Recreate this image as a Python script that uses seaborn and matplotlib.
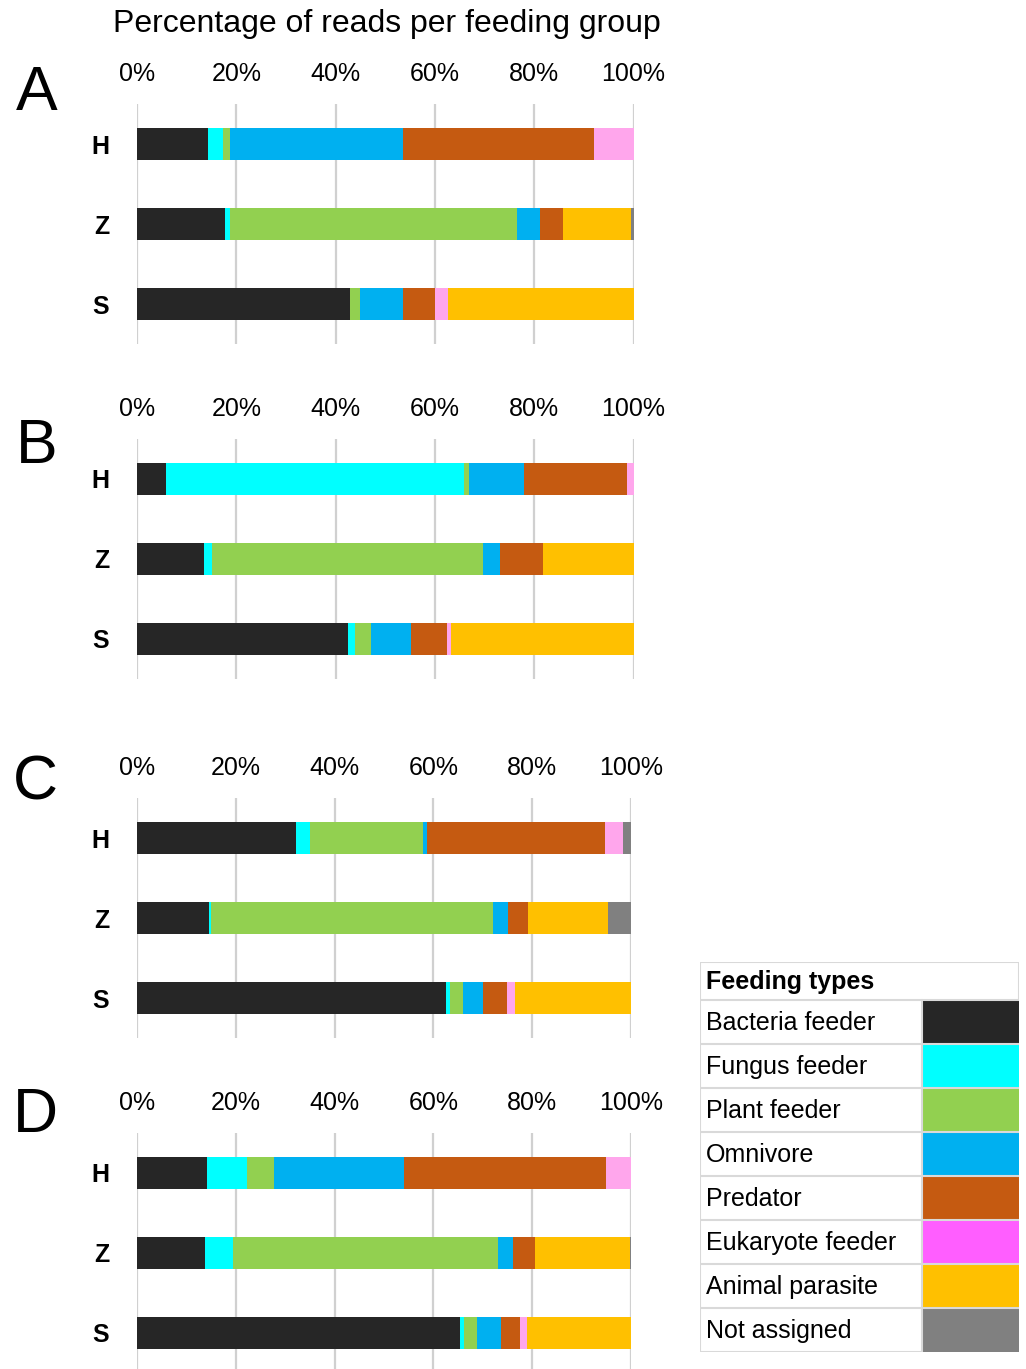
import numpy as np
import pandas as pd
import matplotlib
matplotlib.use("Agg")
import matplotlib.pyplot as plt
from matplotlib.patches import Rectangle
import seaborn as sns

# Feeding groups, in stacking order
feeding_types = ["Bacteria feeder", "Fungus feeder", "Plant feeder", "Omnivore",
                 "Predator", "Eukaryote feeder", "Animal parasite", "Not assigned"]
sites = ["H", "Z", "S"]
panel_labels = ["A", "B", "C", "D"]
tick_values = [0, 20, 40, 60, 80, 100]
tick_labels = ["0%", "20%", "40%", "60%", "80%", "100%"]

# Percentage of reads per feeding group (rows: H, Z, S)
panel_a = [[14.2, 3.1, 1.4, 34.8, 38.6, 7.9, 0.0, 0.0],
           [17.7, 1.0, 57.8, 4.7, 4.7, 0.0, 13.6, 0.5],
           [43.0, 0.0, 2.0, 8.5, 6.5, 2.6, 37.4, 0.0]]
panel_b = [[5.9, 60.0, 1.0, 11.1, 20.7, 1.3, 0.0, 0.0],
           [13.4, 1.7, 54.5, 3.5, 8.6, 0.0, 18.3, 0.0],
           [42.5, 1.5, 3.2, 8.0, 7.2, 0.8, 36.8, 0.0]]
panel_c = [[32.1, 2.9, 22.9, 0.8, 36.0, 3.7, 0.0, 1.6],
           [14.6, 0.3, 57.1, 3.1, 4.0, 0.0, 16.2, 4.7],
           [62.5, 0.8, 2.7, 4.1, 4.9, 1.6, 23.4, 0.0]]
panel_d = [[14.1, 8.1, 5.6, 26.3, 40.8, 5.1, 0.0, 0.0],
           [13.7, 5.7, 53.6, 3.2, 4.4, 0.0, 19.1, 0.3],
           [65.4, 0.8, 2.7, 4.7, 4.0, 1.3, 21.1, 0.0]]
panels = [panel_a, panel_b, panel_c, panel_d]

bar_colors = ["#262626", "#00FFFF", "#92D050", "#00B0F0",
              "#C55A11", "#FFA6EC", "#FFC000", "#808080"]
legend_colors = ["#262626", "#00FFFF", "#92D050", "#00B0F0",
                 "#C55A11", "#FF5EFF", "#FFC000", "#808080"]

sns.set_theme(style="white")
plt.rcParams["font.family"] = ["Liberation Sans", "DejaVu Sans"]
plt.rcParams["text.color"] = "black"
plt.rcParams["xtick.color"] = "black"
plt.rcParams["ytick.color"] = "black"
plt.rcParams["xtick.labelcolor"] = "black"
plt.rcParams["ytick.labelcolor"] = "black"

W, H = 1026, 1369
fig = plt.figure(figsize=(W / 100, H / 100), dpi=100)


def px_axes(x0, y0, x1, y1):
    return fig.add_axes([x0 / W, 1 - y1 / H, (x1 - x0) / W, (y1 - y0) / H])


# axes boxes in pixels: (left, top, right, bottom)
boxes = [(137, 104, 633.5, 344), (137, 439, 633.5, 679),
         (137, 798, 631, 1038), (137, 1133, 631, 1373)]
letter_pos = [(37, 110), (37, 463), (35, 800), (35, 1132)]

for vals, box, lab, lpos in zip(panels, boxes, panel_labels, letter_pos):
    ax = px_axes(*box)
    arr = np.array(vals)
    cum = np.cumsum(arr, axis=1)
    df = pd.DataFrame(cum, columns=feeding_types)
    df["site"] = sites
    # stacked bars: draw cumulative totals from the outermost group inward
    for k in reversed(range(len(feeding_types))):
        sns.barplot(data=df, x=feeding_types[k], y="site", orient="h",
                    color=bar_colors[k], saturation=1, width=0.4,
                    errorbar=None, linewidth=0, ax=ax, zorder=2)
    ax.set_xlim(0, 100)
    ax.set_xticks(tick_values)
    ax.set_xticklabels(tick_labels, fontsize=18)
    ax.xaxis.tick_top()
    ax.xaxis.grid(True, color="#D0D0D0", linewidth=1.6, zorder=0)
    ax.set_axisbelow(True)
    ax.tick_params(axis="x", length=0, pad=13, colors="black")
    ax.tick_params(axis="y", length=0, pad=20, colors="black")
    for t in ax.get_yticklabels():
        t.set_fontsize(18)
        t.set_fontweight("bold")
    ax.set_xlabel("")
    ax.set_ylabel("")
    for s in ax.spines.values():
        s.set_visible(False)
    fig.text(lpos[0] / W, 1 - lpos[1] / H, lab, fontsize=45,
             ha="center", va="baseline")

fig.text(387 / W, 1 - 24 / H, "Percentage of reads per feeding group",
         fontsize=23, ha="center", va="center")

# Feeding-type key drawn as a table
lx0, ly0, lx1, ly1 = 700, 962, 1019, 1352
lax = px_axes(lx0, ly0, lx1, ly1)
lax.set_xlim(0, lx1 - lx0)
lax.set_ylim(ly1 - ly0, 0)
lax.axis("off")
grid_c = "#D9D9D9"
header_h = 38
row_h = (ly1 - ly0 - header_h) / len(feeding_types)
sw_x = 222
lax.add_patch(Rectangle((0, 0), lx1 - lx0, ly1 - ly0, fill=False,
                        edgecolor=grid_c, linewidth=1.5))
lax.text(6, header_h / 2 + 1, "Feeding types", fontsize=18, fontweight="bold",
         va="center", ha="left")
for i, (name, col) in enumerate(zip(feeding_types, legend_colors)):
    y = header_h + i * row_h
    lax.plot([0, lx1 - lx0], [y, y], color=grid_c, linewidth=1.5)
    lax.add_patch(Rectangle((sw_x, y), lx1 - lx0 - sw_x, row_h,
                            facecolor=col, edgecolor="none"))
    lax.text(6, y + row_h / 2 + 1, name, fontsize=18, va="center", ha="left")
lax.plot([sw_x, sw_x], [header_h, ly1 - ly0], color=grid_c, linewidth=1.5)

fig.savefig("out.png", dpi=100)
